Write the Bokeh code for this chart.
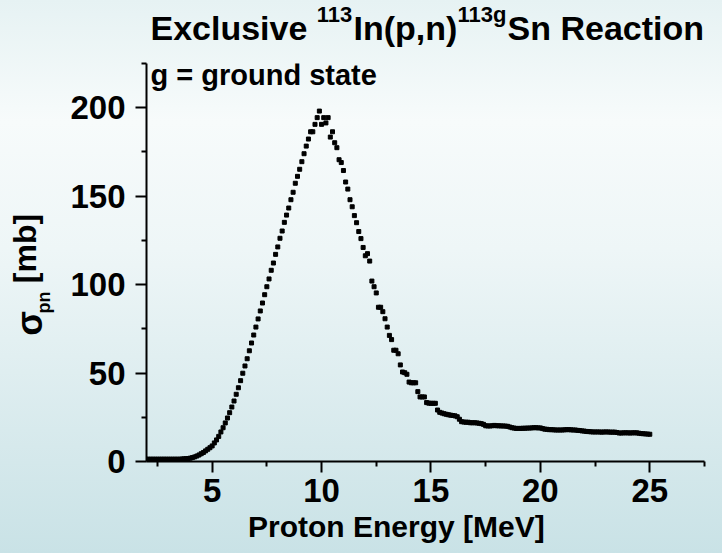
import numpy as np
from bokeh.plotting import figure
from bokeh.layouts import column, row
from bokeh.models import FixedTicker, Label, Range1d
from bokeh.embed import file_html
from bokeh.resources import INLINE

# ---- data ----
energy = np.round(np.arange(2.0, 25.05, 0.1), 1)   # MeV grid, 0.1 MeV steps
sigma = [
    1.3, 1.3, 1.3, 1.3, 1.3, 1.3, 1.3, 1.3, 1.3, 1.3,              # 2.x
    1.3, 1.3, 1.3, 1.3, 1.3, 1.3, 1.4, 1.5, 1.6, 1.7,              # 3.x
    1.9, 2.2, 2.6, 3.1, 3.7, 4.4, 5.1, 6.0, 6.9, 7.8,              # 4.x
    8.8, 10.5, 12.2, 14.2, 16.7, 19.1, 21.8, 24.6, 27.6, 30.8,     # 5.x
    34.2, 38.0, 41.7, 45.7, 49.9, 54.0, 58.1, 62.6, 67.0, 71.5,    # 6.x
    76.0, 80.6, 85.1, 89.6, 94.3, 98.8, 103.2, 108.1, 112.2, 117.1,  # 7.x
    121.3, 126.2, 130.3, 135.2, 139.3, 143.3, 148.0, 152.2, 157.3, 161.2,  # 8.x
    165.2, 169.5, 174.0, 178.3, 182.3, 186.4, 186.4, 190.6, 194.4, 198.1,  # 9.x
    190.6, 194.4, 191.4, 194.4, 183.4, 186.4, 180.2, 177.4, 170.6, 169.0,  # 10.x
    164.5, 158.0, 154.0, 148.0, 144.0, 139.0, 135.0, 130.0, 126.0, 121.0,  # 11.x
    116.3, 117.5, 113.3, 102.0, 98.8, 95.3, 87.2, 87.2, 84.7, 80.7,  # 12.x
    76.0, 71.3, 68.9, 62.9, 62.9, 60.9, 54.6, 50.6, 50.2, 49.3,    # 13.x
    44.9, 44.5, 44.5, 44.5, 39.5, 36.5, 36.5, 36.5, 33.3, 33.0,    # 14.x
    32.9, 32.9, 32.9, 29.1, 27.8, 27.4, 27.0, 26.7, 26.4, 26.2,    # 15.x
    26.0, 25.8, 25.3, 23.9, 22.5, 22.3, 22.2, 22.2, 21.9, 21.9,    # 16.x
    21.9, 21.8, 21.6, 21.4, 21.0, 20.2, 20.1, 20.1, 20.2, 20.4,    # 17.x
    20.2, 20.2, 20.1, 20.1, 20.0, 19.9, 19.5, 19.1, 18.9, 18.7,    # 18.x
    18.7, 18.7, 18.8, 18.8, 18.9, 18.9, 19.0, 19.1, 19.1, 19.0,    # 19.x
    19.0, 18.6, 18.3, 18.2, 18.0, 18.0, 17.9, 17.8, 17.8, 17.8,    # 20.x
    17.8, 17.9, 18.0, 18.0, 17.9, 17.8, 17.8, 17.6, 17.5, 17.3,    # 21.x
    17.2, 17.0, 16.9, 16.8, 16.7, 16.7, 16.7, 16.7, 16.6, 16.7,    # 22.x
    16.7, 16.7, 16.6, 16.6, 16.6, 16.4, 16.1, 16.1, 16.2, 16.2,    # 23.x
    16.2, 16.1, 16.2, 16.2, 16.2, 16.0, 15.8, 15.7, 15.6, 15.5,    # 24.x
    15.4,                                                          # 25.0
]
energy = energy[:len(sigma)]

x_major = [5, 10, 15, 20, 25]
x_minor = [2.5, 7.5, 12.5, 17.5, 22.5, 27.5]
y_major = [0, 50, 100, 150, 200]
y_minor = [25, 75, 125, 175, 225]

title_parts = ["Exclusive ", "113", "In(p,n)", "113g", "Sn Reaction"]
subtitle = "g = ground state"
x_title = "Proton Energy [MeV]"
y_title_parts = ["\u03c3", "pn", "[mb]"]

# ---- layout (canvas pixels) ----
W, H = 722, 553
TOP_H = 58            # strip holding the title
LEFT_W = 60           # strip holding the y title
FL, FR, FT, FB = 146, 704, 63, 461          # main frame edges on the page
FONT = "Liberation Sans"
BG = "linear-gradient(to bottom, #e6f2f3 0%, #f7fbfb 22%, #eef6f7 45%, #c9e2e6 100%)"
DY = -13              # empirical baseline correction for horizontal labels


def bare(fig):
    fig.background_fill_alpha = 0
    fig.border_fill_alpha = 0
    fig.outline_line_color = None
    fig.grid.visible = False
    return fig


# Arial/Liberation Sans Bold advance widths (per em)
AW = {" ": .278, "(": .333, ")": .333, ",": .278, "[": .333, "]": .333, "=": .584,
      "E": .667, "I": .278, "M": .833, "P": .667, "R": .722, "S": .667, "V": .667,
      "a": .556, "c": .556, "d": .611, "e": .556, "g": .611, "i": .278, "l": .278,
      "m": .889, "n": .611, "o": .611, "p": .611, "r": .389, "s": .556, "t": .333,
      "u": .611, "v": .556, "x": .556, "y": .556, "\u03c3": .611}
for d in "0123456789":
    AW[d] = .556


def tw(s, size):
    return sum(AW.get(c, .556) for c in s) * size


def put(fig, text, cx, cy, size, angle=0.0, align="left", baseline="alphabetic", units="data"):
    fig.add_layout(Label(x=cx, y=cy, x_units=units, y_units=units,
                         text=text, angle=angle, text_align=align,
                         text_baseline=baseline, text_font=FONT,
                         text_font_style="bold", text_font_size=f"{size}px",
                         text_color="black"))


# ---- title strip: frame = whole strip, data coords = page pixels ----
top = bare(figure(width=W, height=TOP_H, output_backend="svg", toolbar_location=None,
                  x_range=Range1d(0, W), y_range=Range1d(TOP_H, 0),
                  x_axis_location=None, y_axis_location=None,
                  min_border_left=0, min_border_right=0,
                  min_border_top=0, min_border_bottom=0))
T, S = 34, 22
cx, base = 150.0, 40 + DY
for i, part in enumerate(title_parts):
    if i % 2 == 1:
        put(top, part, cx, base - 13, S)
        cx += tw(part, S)
    else:
        put(top, part, cx, base, T)
        cx += tw(part, T)

# ---- y-title strip: its frame is aligned with the main frame (rows align frames),
#      so its data y range spans the main frame's page rows FT..FB ----
left = bare(figure(width=LEFT_W, height=H - TOP_H, output_backend="svg", toolbar_location=None,
                   x_range=Range1d(0, LEFT_W), y_range=Range1d(FB, FT),
                   x_axis_location=None, y_axis_location=None,
                   min_border_left=0, min_border_right=0,
                   min_border_top=FT - TOP_H, min_border_bottom=H - FB))
R = np.pi / 2
# centres (page px) of each rotated piece; "middle" sits ~0.35 em above the baseline
put(left, y_title_parts[0], 42 - 0.35 * 36, 323, 36, angle=R, align="center", baseline="middle")
put(left, y_title_parts[1], 50 - 0.35 * 18, 302, 18, angle=R, align="center", baseline="middle")
put(left, y_title_parts[2], 36 - 0.35 * 32, 248, 32, angle=R, align="center", baseline="middle")

# ---- main plot ----
p = figure(width=W - LEFT_W, height=H - TOP_H, output_backend="svg", toolbar_location=None,
           x_range=Range1d(2.0, 27.5), y_range=Range1d(0, 225),
           min_border_left=FL - LEFT_W, min_border_right=W - FR,
           min_border_top=FT - TOP_H, min_border_bottom=H - FB)
bare(p)

p.scatter(energy, sigma, marker="square", size=4, color="black")

for ax, maj, mnr in ((p.xaxis[0], x_major, x_minor), (p.yaxis[0], y_major, y_minor)):
    ax.ticker = FixedTicker(ticks=maj, minor_ticks=mnr)
    ax.axis_line_width = 2
    ax.major_tick_line_width = 2
    ax.minor_tick_line_width = 2
    ax.major_tick_in = 0
    ax.major_tick_out = 11
    ax.minor_tick_in = 0
    ax.minor_tick_out = 5
    ax.major_label_text_font = FONT
    ax.major_label_text_font_style = "bold"
    ax.major_label_text_font_size = "33px"
    ax.major_label_text_color = "black"
p.yaxis[0].major_label_standoff = 10
p.xaxis[0].major_label_standoff = 6

# x title: padded with no-break spaces so that it sits left of the frame centre
p.xaxis[0].axis_label = x_title + "\u00a0" * 7
p.xaxis[0].axis_label_text_font = FONT
p.xaxis[0].axis_label_text_font_style = "bold"
p.xaxis[0].axis_label_text_font_size = "30px"
p.xaxis[0].axis_label_text_color = "black"
p.xaxis[0].axis_label_standoff = 5

# subtitle inside the frame (screen units from the frame's bottom-left);
# kept just below the frame top so that it is not clipped
put(p, subtitle, 150 - FL, FB - 74, 29, units="screen")

page = column(top, row(left, p, spacing=0), spacing=0, styles={"background": BG})
open("out.html", "w").write(file_html(page, INLINE))
